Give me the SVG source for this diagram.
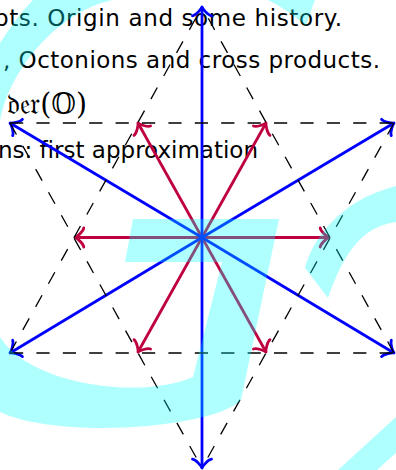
<svg xmlns="http://www.w3.org/2000/svg" width="396" height="470" viewBox="0 0 396 470">
  <style>
    .txt { font-family: "DejaVu Sans", "Liberation Sans", sans-serif; font-size: 23px; fill: #000; }
    .math { font-family: "DejaVu Serif", "DejaVu Sans", "Noto Sans", serif; font-size: 29px; fill: #000; }
    .long { stroke: #0000ff; stroke-width: 2.8; fill: none; marker-end: url(#arrBlue); }
    .short { stroke: #bf0040; stroke-width: 2.8; fill: none; marker-end: url(#arrRed); }
    .dash { stroke: #000; stroke-width: 1.3; stroke-dasharray: 13.2 13.2; fill: none; }
    .wm { fill: #00ffff; fill-opacity: 0.31; stroke: none; }
  </style>
  <defs>
    <marker id="arrBlue" markerUnits="userSpaceOnUse" orient="auto" viewBox="-12 -12 24 24" markerWidth="24" markerHeight="24" refX="0" refY="0" overflow="visible">
      <path d="M -8.8,-9.5 C -8.3,-5.9 -1.8,-0.6 0,0 C -1.8,0.6 -8.3,5.9 -8.8,9.5" fill="none" stroke="#0000ff" stroke-width="2.8" stroke-linecap="round" stroke-linejoin="round"/>
    </marker>
    <marker id="arrRed" markerUnits="userSpaceOnUse" orient="auto" viewBox="-12 -12 24 24" markerWidth="24" markerHeight="24" refX="0" refY="0" overflow="visible">
      <path d="M -8.8,-9.5 C -8.3,-5.9 -1.8,-0.6 0,0 C -1.8,0.6 -8.3,5.9 -8.8,9.5" fill="none" stroke="#bf0040" stroke-width="2.8" stroke-linecap="round" stroke-linejoin="round"/>
    </marker>
  </defs>

  <g id="slide-text">
    <text class="txt" x="-6" y="26" textLength="348" lengthAdjust="spacing">pts. Origin and some history.</text>
    <text class="txt" x="3" y="68" textLength="377" lengthAdjust="spacing">, Octonions and cross products.</text>
    <text class="math" x="7" y="114" textLength="80" lengthAdjust="spacingAndGlyphs">𝔡𝔢𝔯(𝕆)</text>
    <text class="txt" x="-2" y="158" textLength="260" lengthAdjust="spacing">ns: first approximation</text>
  </g>

  <g id="connectors">
    <g id="short-roots">
      <line class="short" x1="202" y1="237.5" x2="75" y2="237.5"/>
      <line class="short" x1="202" y1="237.5" x2="329" y2="237.5"/>
      <line class="short" x1="202" y1="237.5" x2="138" y2="123"/>
      <line class="short" x1="202" y1="237.5" x2="266" y2="123"/>
      <line class="short" x1="202" y1="237.5" x2="138" y2="352"/>
      <line class="short" x1="202" y1="237.5" x2="266" y2="352"/>
    </g>
    <g id="long-roots">
      <line class="long" x1="202" y1="237.5" x2="202" y2="7"/>
      <line class="long" x1="202" y1="237.5" x2="202" y2="468"/>
      <line class="long" x1="202" y1="237.5" x2="10" y2="123"/>
      <line class="long" x1="202" y1="237.5" x2="394" y2="123"/>
      <line class="long" x1="202" y1="237.5" x2="10" y2="353"/>
      <line class="long" x1="202" y1="237.5" x2="394" y2="353"/>
    </g>
    <g id="hexagram">
      <line class="dash" x1="10" y1="123" x2="394" y2="123"/>
      <line class="dash" x1="10" y1="353" x2="394" y2="353"/>
      <line class="dash" x1="10" y1="353" x2="202" y2="7"/>
      <line class="dash" x1="394" y1="353" x2="202" y2="7"/>
      <line class="dash" x1="10" y1="123" x2="202" y2="468"/>
      <line class="dash" x1="394" y1="123" x2="202" y2="468"/>
    </g>
  </g>

  <g id="watermark">
    <path class="wm" d="M 33,0 L 113,0 C 60,10 8,70 0,122 L 0,43 C 10,28 20,13 33,0 Z"/>
    <path class="wm" d="M 268,0 L 315,0 C 312,8 309,16 306,26 C 295,16 282,7 268,0 Z"/>
    <path class="wm" d="M 133,219 L 279,219 L 241,400 C 215,428 60,440 0,412 L 0,337 C 30,385 140,400 193,377 L 222,262 L 125,262 Z"/>
    <path class="wm" d="M 305,268 C 312,240 340,200 396,186 L 396,222 C 370,226 348,240 328,298 Z"/>
    <path class="wm" d="M 338,470 L 396,417 L 396,453 L 377,470 Z"/>
  </g>
</svg>
